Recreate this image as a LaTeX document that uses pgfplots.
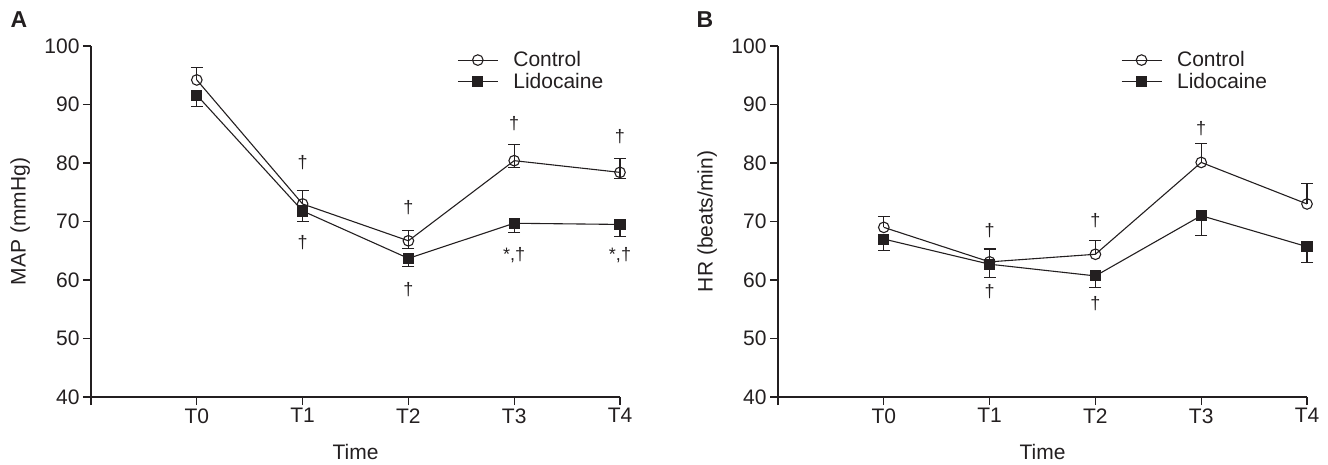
\documentclass[border=0pt]{standalone}
\usepackage{pgfplots}
\pgfplotsset{compat=1.18}
\usepackage{fontspec}
\setmainfont{Liberation Sans}

\definecolor{ink}{HTML}{231F20}

\pgfplotsset{
  panel/.style={
    scale only axis,
    width=529pt, height=351pt,
    anchor=south west,
    xmin=0, xmax=5, ymin=40, ymax=100,
    axis lines*=left,
    axis line style={ink, line width=1.2pt, -},
    tick align=outside,
    major tick length=8pt,
    tick style={ink, line width=1.2pt},
    xtick={0,1,2,3,4,5},
    xticklabels={,T0,T1,T2,T3,T4},
    ytick={40,50,60,70,80,90,100},
    /pgf/number format/assume math mode=true,
    tick label style={font=\fontsize{21}{25}\selectfont, text=ink},
    label style={font=\fontsize{21}{25}\selectfont, text=ink},
    xlabel=Time,
    xlabel style={at={(axis description cs:0.5,-0.158)}, anchor=center, inner sep=0pt},
    ylabel style={at={(axis description cs:-0.134,0.5)}, anchor=center},
    clip=false,
    legend cell align=left,
    legend style={draw=none, fill=none, inner sep=0pt,
      font=\fontsize{21}{25}\selectfont, text=ink,
      row sep=1pt,
      /tikz/every odd column/.append style={column sep=13pt}},
    legend image code/.code={
      \draw[mark repeat=2, mark phase=2] plot coordinates {(0pt,0pt) (20pt,0pt) (40pt,0pt)};
    },
  },
  ctrl/.style={ink, line width=1.1pt, mark=o, mark size=5.3pt,
    mark options={solid, line width=1.1pt},
    error bars/.cd, y dir=plus, y explicit,
    error mark options={rotate=90, mark size=6pt, line width=1.1pt},
    error bar style={line width=1.1pt}},
  ctrlminus/.style={draw=none, mark=none, forget plot,
    error bars/.cd, y dir=minus, y explicit,
    error mark options={rotate=90, mark size=6pt, line width=1.1pt, ink},
    error bar style={line width=1.1pt, draw=ink}},
  lido/.style={ink, line width=1.1pt, mark=square*, mark size=5pt,
    mark options={solid, fill=ink},
    error bars/.cd, y dir=minus, y explicit,
    error mark options={rotate=90, mark size=6pt, line width=1.1pt},
    error bar style={line width=1.1pt}},
}

\newcommand{\sig}[3]{\node[font=\fontsize{18}{20}\selectfont, text=ink] at (axis cs:#1,#2) {#3};}

\begin{document}
\begin{tikzpicture}
\useasboundingbox (0pt,0pt) rectangle (1328pt,-464pt);

\node[font=\bfseries\fontsize{23}{25}\selectfont, text=ink] at (19pt,-20pt) {A};
\node[font=\bfseries\fontsize{23}{25}\selectfont, text=ink] at (705pt,-20pt) {B};

% ---- panel A: MAP
\begin{axis}[panel, at={(91pt,-397pt)}, ylabel={MAP (mmHg)},
  legend style={at={(0.692,0.99)}, anchor=north west}]
\addplot[ctrl] coordinates {
  (1,94.2) +- (0,2.2)
  (2,73.0) +- (0,2.3)
  (3,66.7) +- (0,1.8)
  (4,80.4) +- (0,2.8)
  (5,78.4) +- (0,2.4)};
\addlegendentry{Control}
\addplot[lido] coordinates {
  (1,91.6) +- (0,2.0)
  (2,71.8) +- (0,1.8)
  (3,63.7) +- (0,1.4)
  (4,69.7) +- (0,1.6)
  (5,69.5) +- (0,2.0)};
\addlegendentry{Lidocaine}
\addplot[ctrlminus] coordinates {
  (3,66.7) +- (0,1.25)
  (4,80.4) +- (0,1.1)
  (5,78.4) +- (0,1.0)};
\sig{2}{80.1}{†}
\sig{2}{66.4}{†}
\sig{3}{72.3}{†}
\sig{3}{58.3}{†}
\sig{4}{86.8}{†}
\sig{4}{64.3}{*,†}
\sig{5}{84.5}{†}
\sig{5}{64.3}{*,†}
\end{axis}

% ---- panel B: HR
\begin{axis}[panel, at={(778pt,-397pt)}, ylabel={HR (beats/min)},
  legend style={at={(0.648,0.99)}, anchor=north west}]
\addplot[ctrl] coordinates {
  (1,69.0) +- (0,1.9)
  (2,63.1) +- (0,2.2)
  (3,64.4) +- (0,2.4)
  (4,80.1) +- (0,3.3)
  (5,73.0) +- (0,3.5)};
\addlegendentry{Control}
\addplot[lido] coordinates {
  (1,67.0) +- (0,1.9)
  (2,62.7) +- (0,2.3)
  (3,60.7) +- (0,2.0)
  (4,71.0) +- (0,3.4)
  (5,65.7) +- (0,2.7)};
\addlegendentry{Lidocaine}
\sig{2}{68.5}{†}
\sig{2}{58.0}{†}
\sig{3}{70.1}{†}
\sig{3}{56.0}{†}
\sig{4}{85.9}{†}
\end{axis}
\end{tikzpicture}
\end{document}
